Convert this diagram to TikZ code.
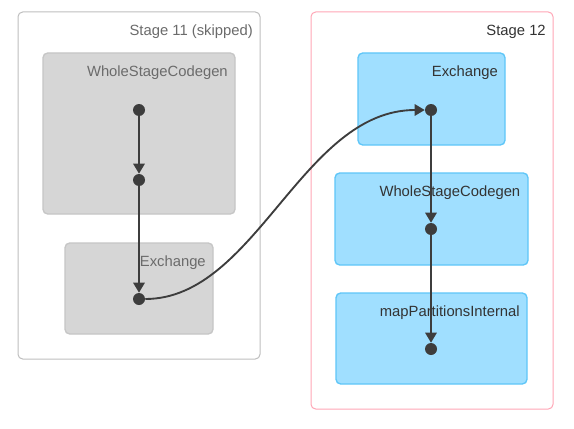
\documentclass[tikz,border=0pt]{standalone}
\usepackage{fontspec}
\setmainfont{Liberation Sans}
\usetikzlibrary{arrows.meta,fit}
\definecolor{edgec}{HTML}{3D3D3D}
\definecolor{skipline}{HTML}{BEBEBE}
\definecolor{greyfill}{HTML}{D6D6D6}
\definecolor{greyline}{HTML}{C6C6C6}
\definecolor{greytext}{HTML}{6B6B6B}
\definecolor{pinkline}{HTML}{FFA6B6}
\definecolor{bluefill}{HTML}{A0DFFF}
\definecolor{blueline}{HTML}{5EC6F8}
\definecolor{darktext}{HTML}{333333}
\begin{document}
\begin{tikzpicture}[x=0.75pt,y=-0.75pt,
  stagebox/.style={draw, line width=0.75pt, rounded corners=3.5pt, inner sep=0pt, fill=white},
  skipstage/.style={stagebox, draw=skipline},
  livestage/.style={stagebox, draw=pinkline},
  greybox/.style={draw=greyline, fill=greyfill, line width=1pt, rounded corners=3.5pt, inner sep=0pt},
  bluebox/.style={draw=blueline, fill=bluefill, line width=1pt, rounded corners=3.5pt, inner sep=0pt},
  lbl/.style={anchor=base east, inner sep=0pt, font=\fontsize{11.1pt}{13pt}\selectfont},
  greylbl/.style={lbl, text=greytext},
  darklbl/.style={lbl, text=darktext},
  dot/.style={circle, fill=edgec, inner sep=0pt, minimum size=9pt},
  edge/.style={draw=edgec, line width=1.4pt, -{Triangle[length=7.5pt,width=8.5pt]}}
]
\useasboundingbox (0,0) rectangle (574,428);
% stages
\node[skipstage, fit={(18,12)(260,359)}] (s11) {};
\node[livestage, fit={(311,12)(553,409)}] (s12) {};
% clusters
\node[greybox, fit={(43,53)(235,214)}] (g1) {};
\node[greybox, fit={(65,243)(213,334)}] (g2) {};
\node[bluebox, fit={(358,53)(505,145)}] (b1) {};
\node[bluebox, fit={(335,173)(528,265)}] (b2) {};
\node[bluebox, fit={(336,293)(527,384)}] (b3) {};
% labels
\node[greylbl] (t11) at (253,35.5) {Stage 11 (skipped)};
\node[greylbl] (tg1) at (228,76) {WholeStageCodegen};
\node[greylbl] (tg2) at (206,266) {Exchange};
\node[darklbl] (t12) at (546,35.5) {Stage 12};
\node[darklbl] (tb1) at (498,76) {Exchange};
\node[darklbl] (tb2) at (520.5,196) {WholeStageCodegen};
\node[darklbl] (tb3) at (520,316) {mapPartitionsInternal};
% dots
\node[dot] (d1) at (139,110) {};
\node[dot] (d2) at (139,180) {};
\node[dot] (d3) at (139,299) {};
\node[dot] (d4) at (431,110) {};
\node[dot] (d5) at (431,229) {};
\node[dot] (d6) at (431,349) {};
% edges
\draw[edge] (d1) -- (d2);
\draw[edge] (d2) -- (d3);
\draw[edge] (d3) .. controls (256,299) and (302,110) .. (d4);
\draw[edge] (d4) -- (d5);
\draw[edge] (d5) -- (d6);
\end{tikzpicture}
\end{document}
